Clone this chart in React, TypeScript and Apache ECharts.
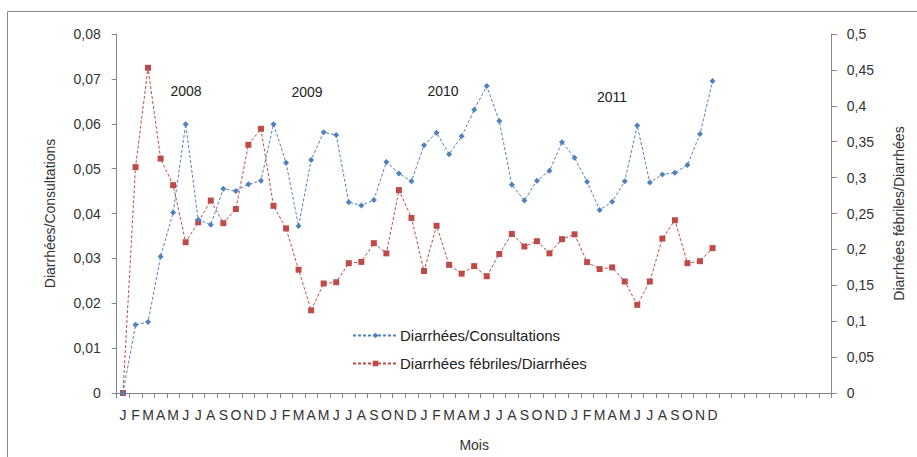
import React, { useEffect, useRef } from "react";
import * as echarts from "echarts";

const monthLetters = ["J", "F", "M", "A", "M", "J", "J", "A", "S", "O", "N", "D"];
const years = ["2008", "2009", "2010", "2011"];
const emptySlots = 9;

const consultations = [
  0, 0.0152, 0.0158, 0.0304, 0.0402, 0.0599, 0.0386, 0.0375, 0.0455, 0.045, 0.0465, 0.0473,
  0.0599, 0.0513, 0.0372, 0.0519, 0.0581, 0.0575, 0.0425, 0.0418, 0.043, 0.0515, 0.0489, 0.0472,
  0.0552, 0.058, 0.0532, 0.0572, 0.0631, 0.0684, 0.0606, 0.0464, 0.0429, 0.0473, 0.0495, 0.0559,
  0.0524, 0.0471, 0.0408, 0.0426, 0.0472, 0.0596, 0.0469, 0.0487, 0.0491, 0.0508, 0.0577, 0.0695,
];

const febriles = [
  0, 0.3146, 0.453, 0.3265, 0.2895, 0.21, 0.2379, 0.268, 0.2365, 0.2562, 0.3457, 0.368,
  0.2607, 0.2292, 0.1717, 0.1151, 0.1525, 0.1543, 0.1808, 0.1826, 0.2087, 0.1945, 0.2826, 0.2438,
  0.1699, 0.2329, 0.1785, 0.1662, 0.1767, 0.1626, 0.1936, 0.2215, 0.2041, 0.2114, 0.1945, 0.2142,
  0.221, 0.1822, 0.1726, 0.1749, 0.1553, 0.1228, 0.1553, 0.2151, 0.2406, 0.1808, 0.1836, 0.2018,
];

const seriesNames = ["Diarrhées/Consultations", "Diarrhées fébriles/Diarrhées"];
const axisNames = ["Diarrhées/Consultations", "Diarrhées fébriles/Diarrhées", "Mois"];

const categories: string[] = [];
years.forEach((y) => monthLetters.forEach((m) => categories.push(m)));
for (let i = 0; i < emptySlots; i++) categories.push("");

const FONT = "'Liberation Sans', Arial, sans-serif";
const fmt = (v: number) => (v === 0 ? "0" : String(+v.toFixed(2)).replace(".", ","));

export default function App() {
  const ref = useRef<HTMLDivElement>(null);
  useEffect(() => {
    if (!ref.current) return;
    const chart = echarts.init(ref.current, undefined, { renderer: "svg" });
    const gray = "#868686";
    const txt = "#333333";
    chart.setOption({
      animation: false,
      backgroundColor: "#ffffff",
      textStyle: { fontFamily: FONT },
      grid: { left: 116.7, right: 85.3, top: 34, bottom: 58, containLabel: false },
      graphic: [
        {
          type: "rect",
          shape: { x: 7.5, y: 11.5, width: 1000, height: 600 },
          style: { fill: "none", stroke: "#8c8c8c", lineWidth: 1 },
          silent: true,
        },
        { type: "text", x: 186, y: 91, style: { text: years[0], fill: "#222", font: `14px ${FONT}`, textAlign: "center", textVerticalAlign: "middle" } },
        { type: "text", x: 307, y: 92, style: { text: years[1], fill: "#222", font: `14px ${FONT}`, textAlign: "center", textVerticalAlign: "middle" } },
        { type: "text", x: 443, y: 91, style: { text: years[2], fill: "#222", font: `14px ${FONT}`, textAlign: "center", textVerticalAlign: "middle" } },
        { type: "text", x: 612, y: 97, style: { text: years[3], fill: "#222", font: `14px ${FONT}`, textAlign: "center", textVerticalAlign: "middle" } },
      ],
      legend: {
        orient: "vertical",
        left: 347,
        top: 323,
        itemWidth: 45,
        itemHeight: 7,
        itemGap: 13,
        textStyle: { fontSize: 15, color: "#222", fontFamily: FONT, padding: [0, 0, 0, -3] },
        data: seriesNames,
      },
      xAxis: {
        type: "category",
        data: categories,
        boundaryGap: true,
        name: axisNames[2],
        nameLocation: "middle",
        nameGap: 45,
        nameTextStyle: { fontSize: 14, color: txt, fontFamily: FONT },
        axisLine: { lineStyle: { color: gray } },
        axisTick: { show: true, interval: 0, length: 5, lineStyle: { color: gray } },
        axisLabel: { interval: 0, fontSize: 14, color: txt, margin: 15, fontFamily: FONT },
        splitLine: { show: false },
      },
      yAxis: [
        {
          type: "value",
          min: 0,
          max: 0.08,
          interval: 0.01,
          name: axisNames[0],
          nameLocation: "middle",
          nameGap: 60,
          nameRotate: 90,
          nameTextStyle: { fontSize: 14, color: txt, fontFamily: FONT },
          axisLine: { show: true, lineStyle: { color: gray } },
          axisTick: { show: true, length: 5, lineStyle: { color: gray } },
          axisLabel: { formatter: fmt, fontSize: 14, color: txt, margin: 16, fontFamily: FONT },
          splitLine: { show: false },
        },
        {
          type: "value",
          min: 0,
          max: 0.5,
          interval: 0.05,
          position: "right",
          name: axisNames[1],
          nameLocation: "middle",
          nameGap: 60,
          nameRotate: 90,
          nameTextStyle: { fontSize: 14, color: txt, fontFamily: FONT },
          axisLine: { show: true, lineStyle: { color: gray } },
          axisTick: { show: true, length: 5, lineStyle: { color: gray } },
          axisLabel: { formatter: fmt, fontSize: 14, color: txt, margin: 15, fontFamily: FONT },
          splitLine: { show: false },
        },
      ],
      series: [
        {
          name: seriesNames[0],
          type: "line",
          yAxisIndex: 0,
          data: consultations,
          symbol: "diamond",
          symbolSize: 6,
          showSymbol: true,
          itemStyle: { color: "#4f81bd" },
          lineStyle: { color: "#4f81bd", width: 1, type: [3, 2] },
          z: 3,
        },
        {
          name: seriesNames[1],
          type: "line",
          yAxisIndex: 1,
          data: febriles,
          symbol: "rect",
          symbolSize: 6,
          showSymbol: true,
          itemStyle: { color: "#be4b48" },
          lineStyle: { color: "#be4b48", width: 1, type: [3, 2] },
          z: 2,
        },
      ],
    });
    return () => chart.dispose();
  }, []);
  return (
    <div
      ref={ref}
      style={{ position: "fixed", left: 0, top: 0, width: 917, height: 457 }}
    />
  );
}
